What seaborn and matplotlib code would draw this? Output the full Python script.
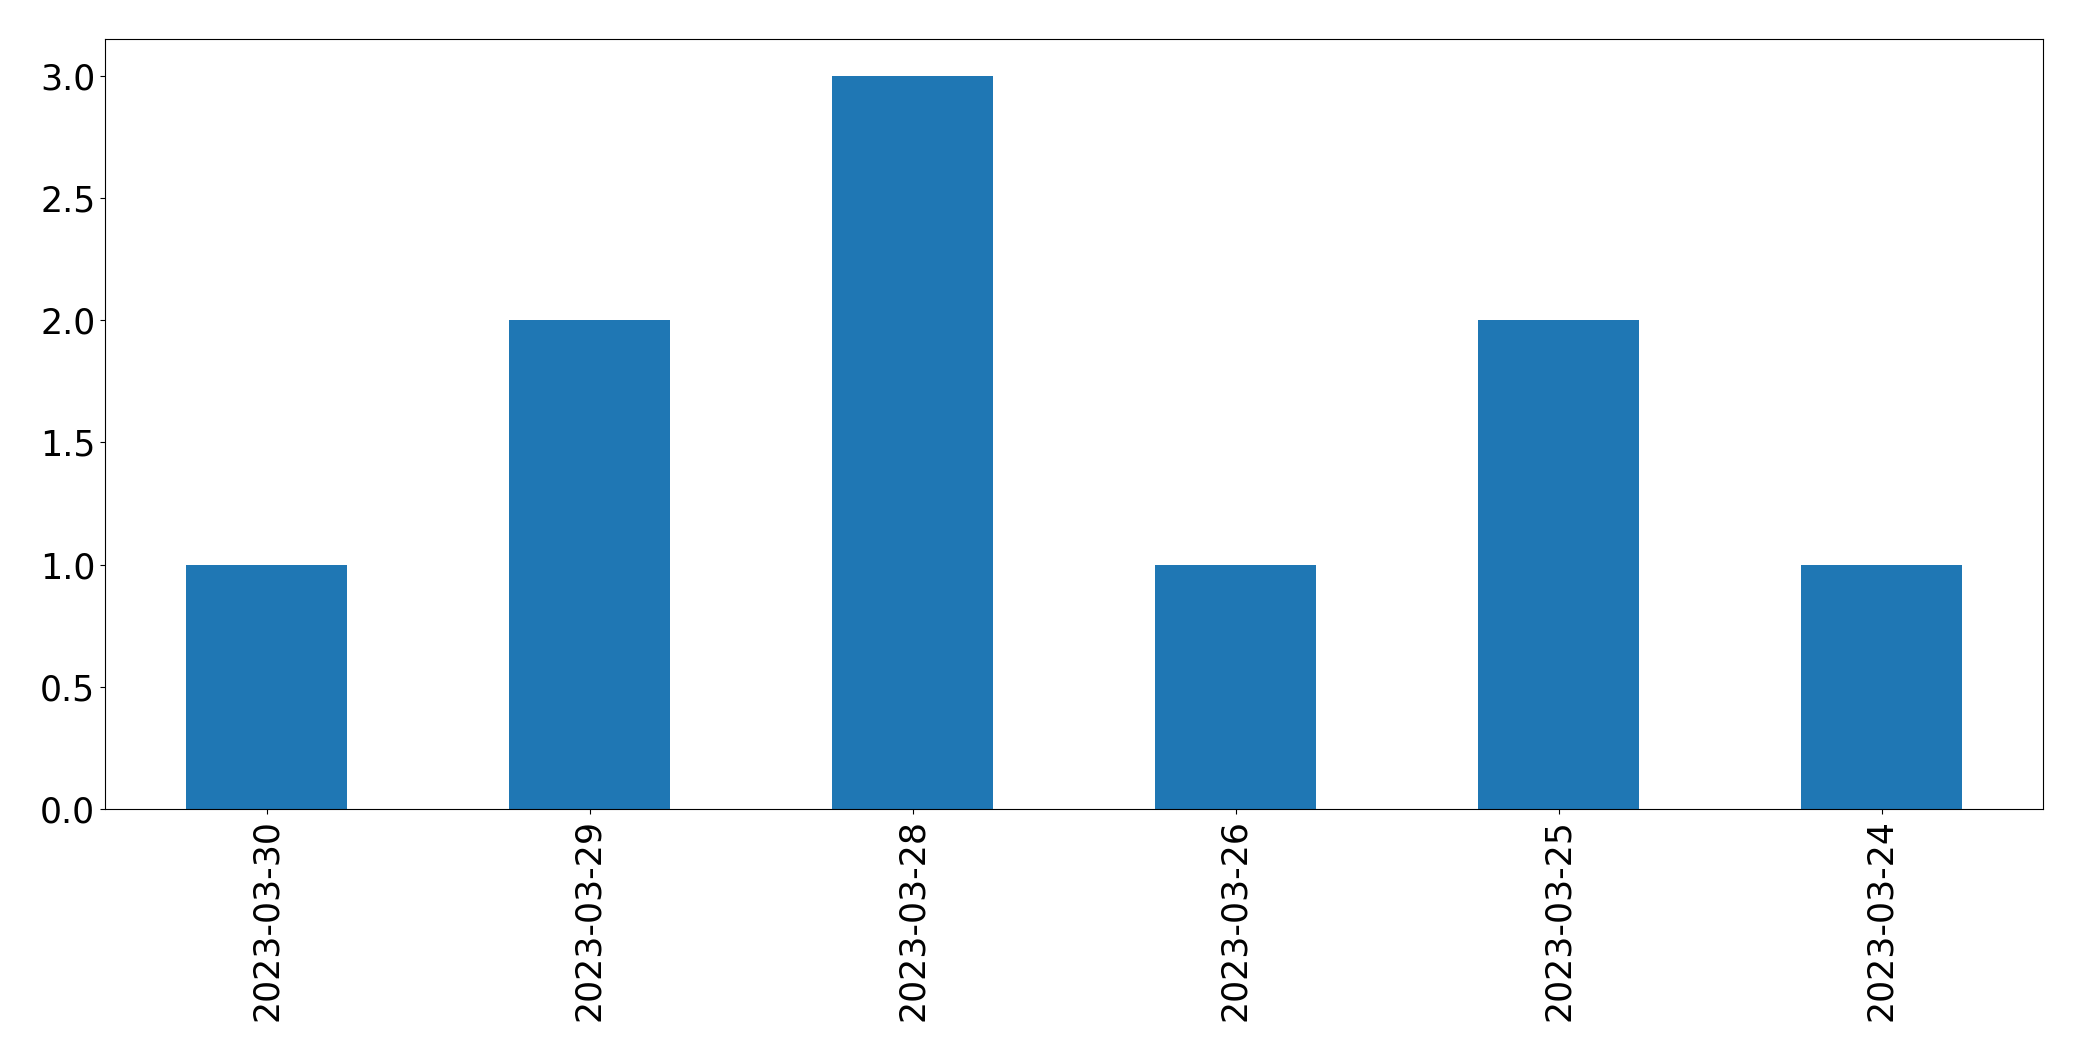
import matplotlib
matplotlib.use("Agg")
import matplotlib.pyplot as plt
import seaborn as sns
import pandas as pd

dates = ["2023-03-30", "2023-03-29", "2023-03-28", "2023-03-26", "2023-03-25", "2023-03-24"]
counts = [1, 2, 3, 1, 2, 1]

df = pd.DataFrame({"date": dates, "count": counts})

fig = plt.figure(figsize=(20.82, 10.61), dpi=100)
ax = fig.add_axes([105 / 2082, (1061 - 809) / 1061, 1938 / 2082, 770 / 1061])

sns.barplot(data=df, x="date", y="count", order=dates, color="#1f77b4",
            saturation=1, width=0.5, ax=ax, errorbar=None)

ax.set_xlim(-0.5, len(dates) - 0.5)
ax.set_ylim(0, max(counts) * 1.05)
ax.set_xlabel("")
ax.set_ylabel("")
ax.tick_params(axis="both", labelsize=25)
ax.tick_params(axis="x", labelrotation=90)
for s in ax.spines.values():
    s.set_visible(True)
    s.set_color("black")
    s.set_linewidth(0.8)

fig.savefig("out.png", dpi=100)
